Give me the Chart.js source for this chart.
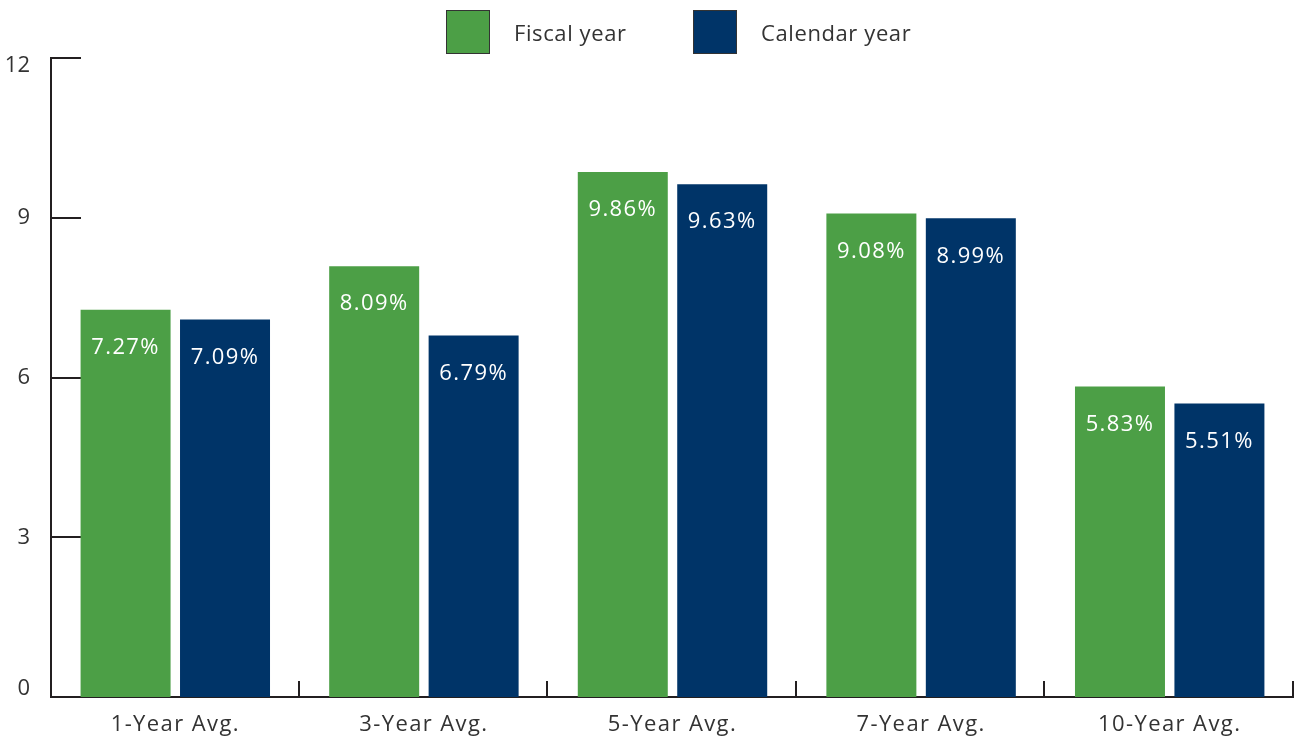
<!DOCTYPE html>
<html>
<head>
<meta charset="utf-8">
<script src="https://cdn.jsdelivr.net/npm/chart.js@4.4.1/dist/chart.umd.min.js"></script>
<style>
  html, body { margin: 0; padding: 0; background: #fff; }
  #wrap { position: relative; width: 1294px; height: 740px; }
  #legend { position: absolute; top: 0; left: 0; width: 1294px; height: 58px; }
  .lg-item { position: absolute; top: 10px; display: flex; align-items: center;
    font-family: 'Open Sans', sans-serif; font-size: 22px; letter-spacing: 0.6px; color: #333; }
  .lg-box { width: 42px; height: 42px; border: 1px solid #333; margin-right: 24px; }
</style>
</head>
<body>
<div id="wrap">
  <div id="legend"></div>
  <canvas id="chart" width="1294" height="740"></canvas>
</div>
<script>
// =============================================
// データ
// =============================================
const categories = ['1-Year Avg.', '3-Year Avg.', '5-Year Avg.', '7-Year Avg.', '10-Year Avg.']
const seriesNames = ['Fiscal year', 'Calendar year']
const fiscalYear   = [7.27, 8.09, 9.86, 9.08, 5.83]
const calendarYear = [7.09, 6.79, 9.63, 8.99, 5.51]
const yTicks = [0, 3, 6, 9, 12]

const COLORS = ['#4c9f46', '#003468']
const AXIS = '#231f20'
const FONT = "'Open Sans', sans-serif"
const SPACING = '1.4px'

// =============================================
// 凡例 (HTML)
// =============================================
const legendLeft = [446, 693]
const legend = document.getElementById('legend')
seriesNames.forEach((name, i) => {
  const item = document.createElement('div')
  item.className = 'lg-item'
  item.style.left = legendLeft[i] + 'px'
  item.innerHTML = `<div class="lg-box" style="background:${COLORS[i]}"></div><span>${name}</span>`
  legend.appendChild(item)
})

// 文字間隔 (Chart.js は letterSpacing を触らない)
const spacing = {
  id: 'spacing',
  beforeUpdate(chart) { chart.ctx.letterSpacing = SPACING },
  beforeDraw(chart) { chart.ctx.letterSpacing = SPACING }
}

// =============================================
// 内向きの目盛り線 + Y軸ラベル
// =============================================
const innerTicks = {
  id: 'innerTicks',
  beforeDatasetsDraw(chart) {
    const { ctx, chartArea: a, scales: { y } } = chart
    ctx.save()
    ctx.strokeStyle = AXIS
    ctx.lineWidth = 2
    ctx.beginPath()
    yTicks.slice(1).forEach(v => {
      const py = Math.round(y.getPixelForValue(v))
      ctx.moveTo(a.left, py)
      ctx.lineTo(a.left + 30, py)
    })
    const w = (a.right - a.left) / categories.length
    for (let i = 1; i <= categories.length; i++) {
      const px = Math.round(a.left + w * i) - 1
      ctx.moveTo(px, a.bottom)
      ctx.lineTo(px, a.bottom - 16)
    }
    ctx.stroke()

    // 端のラベルは軸の内側に収める
    ctx.fillStyle = '#333'
    ctx.font = `22px ${FONT}`
    ctx.letterSpacing = '0px'
    ctx.textAlign = 'right'
    ctx.textBaseline = 'middle'
    yTicks.forEach(v => {
      const py = Math.min(Math.max(y.getPixelForValue(v), a.top + 8), a.bottom - 8)
      ctx.fillText(String(v), 30, py)
    })
    ctx.restore()
  }
}

// =============================================
// 棒の中の値ラベル
// =============================================
const valueLabels = {
  id: 'valueLabels',
  afterDatasetsDraw(chart) {
    const { ctx } = chart
    ctx.save()
    ctx.fillStyle = '#fff'
    ctx.font = `22px ${FONT}`
    ctx.letterSpacing = SPACING
    ctx.textAlign = 'center'
    ctx.textBaseline = 'middle'
    chart.data.datasets.forEach((ds, di) => {
      chart.getDatasetMeta(di).data.forEach((bar, i) => {
        ctx.fillText(ds.data[i].toFixed(2) + '%', bar.x, bar.y + 38)
      })
    })
    ctx.restore()
  }
}

new Chart(document.getElementById('chart'), {
  type: 'bar',
  data: {
    labels: categories,
    datasets: [
      { label: seriesNames[0], data: fiscalYear, backgroundColor: COLORS[0] },
      { label: seriesNames[1], data: calendarYear, backgroundColor: COLORS[1] },
    ]
  },
  options: {
    responsive: false,
    animation: false,
    layout: { padding: { top: 58, right: 0, left: 0, bottom: 0 } },
    datasets: { bar: { categoryPercentage: 0.8, barPercentage: 0.905 } },
    plugins: { legend: { display: false }, tooltip: { enabled: false } },
    scales: {
      x: {
        grid: { display: false, drawTicks: false },
        border: { color: AXIS, width: 2 },
        ticks: { color: '#333', font: { family: FONT, size: 22 }, padding: 15 },
        afterFit(s) { s.height = 43 }
      },
      y: {
        min: 0, max: 12,
        afterBuildTicks(s) { s.ticks = yTicks.map(v => ({ value: v })) },
        grid: { display: false, drawTicks: false },
        border: { color: AXIS, width: 2 },
        ticks: { display: false },
        afterFit(s) { s.width = 51 }
      }
    }
  },
  plugins: [spacing, innerTicks, valueLabels]
})
</script>
</body>
</html>
